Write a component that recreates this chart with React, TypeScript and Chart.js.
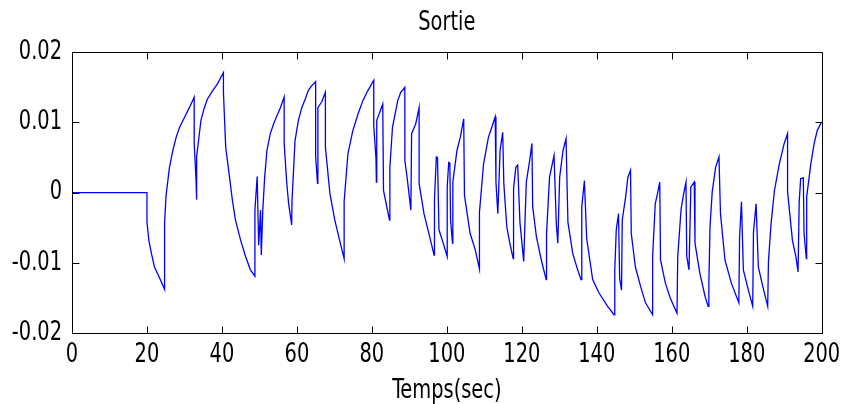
import React, { useEffect, useRef } from "react";
import { Chart, registerables } from "chart.js";

Chart.register(...registerables);

// Time (s) of each vertex of the output signal
const timeSec: number[] = [
  0, 20, 20, 20.5, 21.2, 22.0, 23.4, 24.7, 24.7, 25.1, 26.0, 26.9, 27.8, 28.7, 30.0, 31.3, 32.6,
  32.6, 33.1, 33.2, 33.3, 34.4, 35.3, 36.1, 37.5, 38.8, 40.4,
  40.4, 41.0, 41.9, 42.8, 43.6, 45.0, 46.3, 47.6, 48.8,
  48.8, 49.4, 49.8, 50.3, 50.5, 50.9, 51.4, 52.0, 52.9, 53.8, 54.7, 55.6, 56.6,
  56.6, 57.3, 57.8, 58.6, 58.7, 59.5, 60.4, 61.3, 62.2, 63.0, 63.9, 65.0,
  65.0, 65.5, 65.6, 66.6, 67.6, 67.6, 68.8, 70.1, 71.4, 72.6,
  72.6, 73.6, 74.9, 76.3, 77.6, 78.9, 80.5,
  80.5, 81.1, 81.2, 81.3, 82.9, 83.1, 84.7, 84.8, 85.5, 86.9, 87.7, 88.8,
  88.8, 89.5, 90.4, 90.6, 91.7, 92.6, 92.6, 93.9, 95.2, 96.6,
  96.7, 97.2, 97.5, 97.9, 98.8, 100.1, 100.1, 100.5, 100.8, 101.0, 101.5,
  101.6, 102.7, 103.6, 104.5, 104.7, 106.2, 107.6, 108.7,
  108.7, 109.8, 111.1, 112.0, 112.9, 113.1, 113.6, 114.2, 114.9, 115.2, 116.0, 116.8, 117.7,
  117.8, 118.4, 118.9, 119.5, 120.5, 121.2, 122.1, 122.7, 122.9, 123.9, 125.2, 126.5,
  126.6, 127.4, 128.6, 129.2, 129.6, 130.1, 131.0, 131.8, 132.3, 133.6, 134.9, 135.8,
  136.0, 136.7, 137.3, 138.9, 140.6, 142.9, 144.6,
  144.8, 145.2, 145.8, 146.1, 146.6, 146.8, 147.7, 148.3, 149.0,
  149.2, 150.3, 151.7, 153.0, 154.9, 154.9, 155.6, 156.3, 156.8,
  157.0, 158.3, 159.6, 161.4, 161.6, 162.5, 163.1, 163.8, 164.0, 164.6, 165.1, 166.0,
  166.2, 167.5, 168.9, 169.7, 169.9, 170.2, 170.8, 171.7, 172.6,
  173.0, 174.2, 175.9, 177.9, 178.1, 178.6, 179.1, 180.3, 181.6,
  181.8, 182.5, 183.1, 184.3, 185.6, 185.8, 186.5, 187.4, 188.7, 190.0, 190.9,
  190.9, 192.2, 193.1, 193.7, 194.0, 194.4, 195.1, 195.3, 195.9,
  196.0, 197.1, 198.0, 198.8, 199.9,
];

// Output value at each vertex
const sortie: number[] = [
  0, 0, -0.0042, -0.0068, -0.0087, -0.0106, -0.0122, -0.0138, -0.0043, -0.0004, 0.0036, 0.006, 0.0079, 0.0093, 0.0107, 0.0121, 0.0136,
  0.007, 0.0017, -0.001, 0.0051, 0.0103, 0.0121, 0.0133, 0.0145, 0.0155, 0.0171,
  0.0143, 0.0065, 0.0027, -0.0011, -0.0039, -0.0068, -0.0091, -0.011, -0.0119,
  -0.0025, 0.0023, -0.0075, -0.0025, -0.0089, -0.0025, 0.0022, 0.006, 0.0084, 0.0098, 0.011, 0.0121, 0.0136,
  0.007, 0.0013, -0.0016, -0.0046, -0.0011, 0.0074, 0.0103, 0.0121, 0.0133, 0.0145, 0.0152, 0.0158,
  0.0051, 0.0013, 0.0121, 0.0129, 0.0143, 0.0065, -0.0001, -0.0039, -0.0068, -0.0094,
  -0.0013, 0.0055, 0.0088, 0.0112, 0.0131, 0.0145, 0.016,
  0.0096, 0.0048, 0.0015, 0.0103, 0.0126, 0.0003, -0.0039, 0.0036, 0.0093, 0.0131, 0.0143, 0.015,
  0.0046, 0.0017, -0.0025, 0.0084, 0.0098, 0.0121, 0.0013, -0.003, -0.0058, -0.0089,
  -0.0009, 0.0051, 0.005, -0.0053, -0.0068, -0.0091, 0.0008, 0.0043, 0.0042, -0.0039, -0.0072,
  0.0015, 0.006, 0.0079, 0.0105, -0.0004, -0.0058, -0.0082, -0.0109,
  -0.0028, 0.0041, 0.0079, 0.0093, 0.0108, 0.0015, -0.003, 0.006, 0.0086, 0.0013, -0.0049, -0.0072, -0.0094,
  0.0006, 0.0036, 0.0039, -0.0042, -0.0098, 0.0015, 0.0046, 0.007, -0.002, -0.0063, -0.0096, -0.0124,
  -0.0058, 0.0022, 0.0053, -0.0044, -0.0072, 0.0022, 0.006, 0.0077, -0.0042, -0.0087, -0.011, -0.0124,
  -0.002, 0.0017, -0.0065, -0.0124, -0.0143, -0.0162, -0.0174,
  -0.011, -0.0053, -0.003, -0.0122, -0.0139, -0.0039, -0.0006, 0.0022, 0.0032,
  -0.0058, -0.0106, -0.0134, -0.0157, -0.0174, -0.0091, -0.0016, 0.0001, 0.0015,
  -0.0096, -0.0129, -0.015, -0.0172, -0.0091, -0.0023, -0.0004, 0.0015, -0.0091, -0.011, 0.0008, 0.0015,
  -0.0072, -0.0115, -0.0148, -0.0162, -0.0131, -0.0049, 0.0001, 0.0036, 0.0051,
  -0.003, -0.0096, -0.0129, -0.0157, -0.0063, -0.0013, -0.011, -0.0136, -0.0162,
  -0.0056, -0.0016, -0.0106, -0.0134, -0.0162, -0.0098, -0.0044, 0.0003, 0.0041, 0.007, 0.0084,
  0.0001, -0.0068, -0.0091, -0.0113, -0.0013, 0.002, 0.0021, -0.0058, -0.0094,
  -0.0006, 0.0041, 0.007, 0.0088, 0.01,
];

const xTicks: number[] = [0, 20, 40, 60, 80, 100, 120, 140, 160, 180, 200];
const yTicks: number[] = [-0.02, -0.01, 0, 0.01, 0.02];

const FONT = "'DejaVu Sans Condensed', 'Liberation Sans Narrow', sans-serif";
const SQUEEZE = 0.83;

// Narrow the text horizontally (MATLAB-like condensed lettering) around its anchor point
const squeezePlugin = {
  id: "squeezeText",
  beforeDraw(chart: any) {
    const ctx = chart.ctx as any;
    if (ctx.__squeezed) return;
    const orig = ctx.fillText.bind(ctx);
    ctx.fillText = (text: string, x: number, y: number, maxWidth?: number) => {
      ctx.save();
      ctx.translate(x, y);
      ctx.scale(SQUEEZE, 1);
      if (maxWidth === undefined) orig(text, 0, 0);
      else orig(text, 0, 0, maxWidth / SQUEEZE);
      ctx.restore();
    };
    ctx.__squeezed = true;
  },
};

const boxPlugin = {
  id: "matlabBox",
  afterDatasetsDraw(chart: any) {
    const { ctx, chartArea, scales } = chart;
    const { left, right, top, bottom } = chartArea;
    const L = Math.round(left) + 0.5;
    const R = Math.round(right) + 0.5;
    const T = Math.round(top) + 0.5;
    const B = Math.round(bottom) + 0.5;
    const tl = 7;
    ctx.save();
    ctx.strokeStyle = "#000";
    ctx.lineWidth = 1;
    ctx.beginPath();
    ctx.rect(L, T, R - L, B - T);
    xTicks.forEach((v) => {
      const px = Math.round(scales.x.getPixelForValue(v)) + 0.5;
      ctx.moveTo(px, B);
      ctx.lineTo(px, B - tl);
      ctx.moveTo(px, T);
      ctx.lineTo(px, T + tl);
    });
    yTicks.forEach((v) => {
      const py = Math.round(scales.y.getPixelForValue(v)) + 0.5;
      ctx.moveTo(L, py);
      ctx.lineTo(L + tl, py);
      ctx.moveTo(R, py);
      ctx.lineTo(R - tl, py);
    });
    ctx.stroke();
    ctx.restore();
  },
};

export default function App() {
  const ref = useRef<HTMLCanvasElement | null>(null);

  useEffect(() => {
    if (!ref.current) return;
    const points = timeSec.map((t, i) => ({ x: t, y: sortie[i] }));
    const chart = new Chart(ref.current, {
      type: "line",
      data: {
        datasets: [
          {
            data: points,
            borderColor: "#0000ff",
            borderWidth: 1.3,
            pointRadius: 0,
            tension: 0,
            fill: false,
          },
        ],
      },
      options: {
        animation: false,
        responsive: false,
        events: [],
        layout: { padding: { left: 0, right: 22, top: 0, bottom: 0 } },
        plugins: {
          legend: { display: false },
          tooltip: { enabled: false },
          title: {
            display: true,
            text: "Sortie",
            color: "#000",
            fullSize: false,
            font: { family: FONT, size: 26, weight: "normal" },
            padding: { top: 8, bottom: 13 },
          },
        },
        scales: {
          x: {
            type: "linear",
            min: 0,
            max: 200,
            grid: { display: false, drawTicks: false },
            border: { display: false },
            afterBuildTicks: (s: any) => {
              s.ticks = xTicks.map((v) => ({ value: v }));
            },
            afterFit: (s: any) => {
              s.height = 71;
            },
            ticks: {
              color: "#000",
              padding: 7,
              maxRotation: 0,
              autoSkip: false,
              font: { family: FONT, size: 26 },
              callback: (v: any) => String(v),
            },
            title: {
              display: true,
              text: "Temps(sec)",
              color: "#000",
              font: { family: FONT, size: 26, lineHeight: 1.0 },
              padding: { top: 0, bottom: 0 },
            },
          },
          y: {
            type: "linear",
            min: -0.02,
            max: 0.02,
            grid: { display: false, drawTicks: false },
            border: { display: false },
            afterBuildTicks: (s: any) => {
              s.ticks = yTicks.map((v) => ({ value: v }));
            },
            afterFit: (s: any) => {
              s.width = 72;
            },
            ticks: {
              color: "#000",
              padding: 10,
              autoSkip: false,
              font: { family: FONT, size: 26 },
              callback: (v: any) => String(Number(Number(v).toFixed(2))),
            },
          },
        },
      },
      plugins: [squeezePlugin, boxPlugin],
    });
    return () => chart.destroy();
  }, []);

  return (
    <div style={{ position: "absolute", left: 0, top: 0, width: 851, height: 404, background: "#fff" }}>
      <canvas ref={ref} width={851} height={404} style={{ display: "block" }} />
    </div>
  );
}
